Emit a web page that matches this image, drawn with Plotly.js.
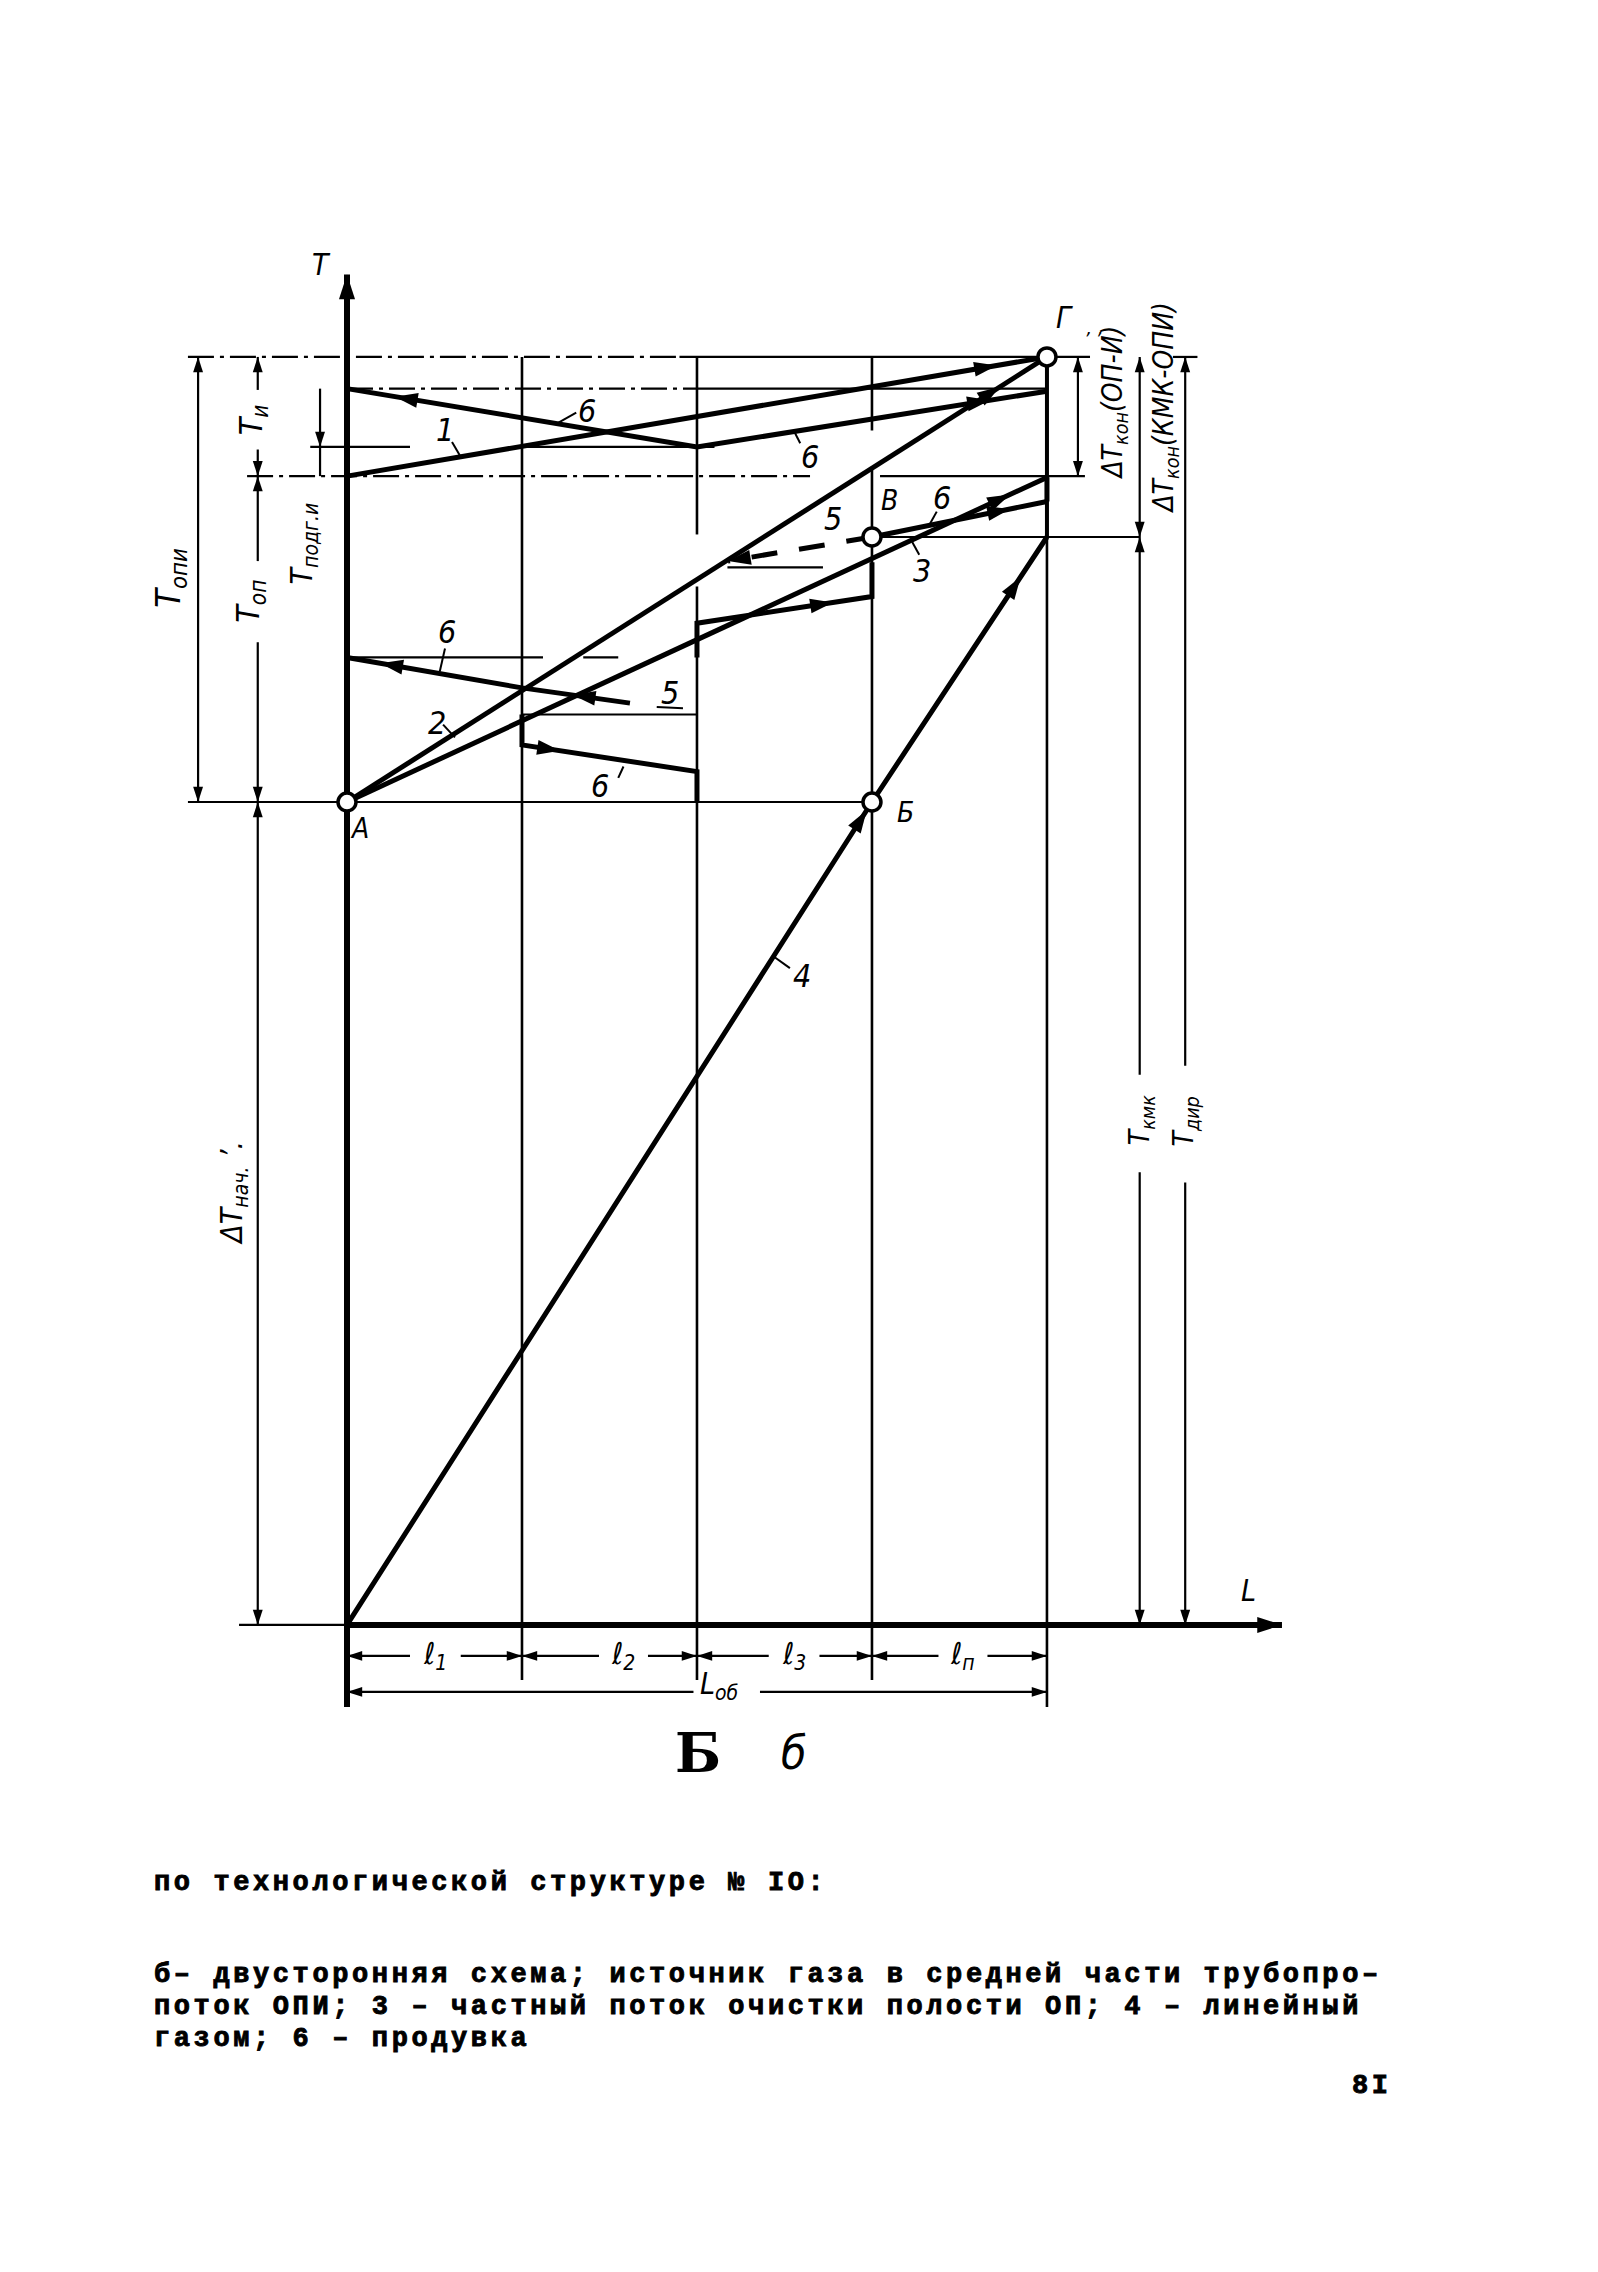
<!DOCTYPE html>
<html>
<head>
<meta charset="utf-8">
<script src="https://cdn.plot.ly/plotly-3.0.1.min.js"></script>
<style>
  html, body { margin: 0; padding: 0; background: #fff; }
  #chart { width: 1598px; height: 2272px; }
</style>
</head>
<body>
<div id="chart"></div>
<script>
// ---- Pipeline length axis L: boundaries of sections ℓ1, ℓ2, ℓ3, ℓп ----
const segmentBounds = [0, 1, 2, 3, 4];
const segmentLabels = ['ℓ<sub>1</sub>', 'ℓ<sub>2</sub>', 'ℓ<sub>3</sub>', 'ℓ<sub>п</sub>'];
const segmentLabelL = [0.503, 1.577, 2.554, 3.52];

// ---- Characteristic times T (Г = 100) ----
const pointNames = ['A', 'Б', 'В', 'Г'];
const pointL = [0, 3, 3, 4];
const pointT = [64.9, 64.9, 85.8, 100];

// ---- Process lines ----
// 1 — ОПИ flow
const flow1L = [0, 4];
const flow1T = [90.6, 100];
// 2 — ОП flow
const flow2L = [0, 4];
const flow2T = [64.9, 100];
// 3 — partial flow of cavity cleaning
const flow3L = [0, 4];
const flow3T = [64.9, 90.5];
// 4 — linear flow
const flow4L = [0, 3, 4];
const flow4T = [0, 64.9, 85.8];
// from point В to the end
const flowBL = [3, 4];
const flowBT = [85.8, 88.6];
// 6 — purge, upper (gas source in the middle part)
const purgeTopL = [0, 2, 4];
const purgeTopT = [97.5, 92.9, 97.3];
// 6 — purge, lower
const purgeMidL = [0, 1, 1.617];
const purgeMidT = [76.3, 73.9, 72.7];
// 6′ — staircase of partial purges
const stepAL = [1, 1, 2, 2];
const stepAT = [71.8, 69.4, 67.3, 64.9];
const stepBL = [2, 2, 3, 3];
const stepBT = [76.3, 79.0, 81.1, 83.8];
const endJumpL = [4, 4];
const endJumpT = [90.5, 88.6];
// 5 — dashed
const dashed5L = [3, 2.177];
const dashed5T = [85.8, 83.9];

// ---- Construction lines ----
const gridL = [1, 1, null, 2, 2, null, 2, 2, null, 3, 3, null, 3, 3, null, 4, 4];
const gridT = [100, -4.34, null, 100, 86.0, null, 81.9, -4.34, null, 100, 94.2, null, 91.1, -4.34, null, 85.8, -6.47];
const endLineL = [4, 4];
const endLineT = [100, 85.8];
const axisTL = [0, 0];
const axisTT = [-6.47, 106.5];
const axisLL = [0, 5.343];
const axisLT = [0, 0];

const levelSolidL = [1.9, 4.246, null, 2, 4, null, -0.21, 0.36, null, 1, 2.1, null, 3.046, 4.217, null,
  3, 4.53, null, 2.174, 2.72, null, 0, 1.12, null, 1.35, 1.55, null, 1, 2, null, -0.909, 3, null, -0.617, 0];
const levelSolidT = [100, 100, null, 97.5, 97.5, null, 92.9, 92.9, null, 92.9, 92.9, null, 90.6, 90.6, null,
  85.8, 85.8, null, 83.4, 83.4, null, 76.3, 76.3, null, 76.3, 76.3, null, 71.8, 71.8, null, 64.9, 64.9, null, 0, 0];
const levelDashL = [-0.909, 1.9, null, 0, 2, null, -0.571, 2.646];
const levelDashT = [100, 100, null, 97.5, 97.5, null, 90.6, 90.6];

// ---- Dimension lines ----
const dimL = [-0.851, -0.851, null, -0.51, -0.51, null, -0.51, -0.51, null, -0.51, -0.51, null, -0.51, -0.51, null,
  -0.51, -0.51, null, -0.154, -0.154, null, 4.177, 4.177, null, 4.53, 4.53, null, 4.53, 4.53, null,
  4.79, 4.79, null, 4.79, 4.79, null, 4.72, 4.86];
const dimT = [100, 64.9, null, 100, 97.4, null, 92.7, 90.6, null, 90.6, 83.9, null, 77.5, 64.9, null,
  64.9, 0, null, 97.5, 90.6, null, 100, 90.6, null, 100, 43.4, null, 35.7, 0, null,
  100, 44.1, null, 34.9, 0, null, 100, 100];
// vertical dimension arrowheads: position and direction (1 up, -1 down)
const dimArrowL = [-0.851, -0.851, -0.51, -0.51, -0.51, -0.51, -0.51, -0.51, -0.154, 4.177, 4.177, 4.53, 4.53, 4.53, 4.53, 4.79, 4.79];
const dimArrowT = [100, 64.9, 100, 90.6, 90.6, 64.9, 64.9, 0, 92.9, 100, 90.6, 100, 85.8, 85.8, 0, 100, 0];
const dimArrowDir = [1, -1, 1, -1, 1, -1, 1, -1, -1, 1, -1, 1, -1, 1, -1, 1, -1];

// length dimensions below the axis
const lenRowT = -2.44;
const totalRowT = -5.28;
const lenDimL = [0, 0.36, null, 0.65, 1.44, null, 1.72, 2.41, null, 2.7, 3.38, null, 3.66, 4];
const totalDimL = [0, 1.98, null, 2.36, 4];

// label leader strokes
const leaderL = [0.6, 0.646, null, 1.206, 1.31, null, 2.56, 2.59, null, 0.56, 0.53, null, 0.549, 0.617, null,
  1.58, 1.55, null, 3.23, 3.27, null, 3.37, 3.33, null, 2.434, 2.531, null, 1.77, 1.92];
const leaderT = [93.3, 92.2, null, 94.8, 95.6, null, 94.0, 93.2, null, 77.0, 75.2, null, 71.0, 70.0, null,
  67.7, 66.8, null, 85.4, 84.4, null, 87.8, 86.8, null, 52.76, 51.8, null, 72.4, 72.3];

// ---- Frame ----
const W = 1598, H = 2272;
const xRange = [-1.983, 7.149];
const yRange = [-51.03, 128.15];
const pxL = W / (xRange[1] - xRange[0]);
const pxT = H / (yRange[1] - yRange[0]);

const INK = '#000';
const traces = [];
function path(xs, ys, width, dash) {
  traces.push({
    type: 'scatter', mode: 'lines', x: xs, y: ys,
    line: { color: INK, width: width, dash: dash || 'solid' },
    hoverinfo: 'skip', cliponaxis: false
  });
}
function heading(dL, dT) { return Math.atan2(dL * pxL, dT * pxT) * 180 / Math.PI; }
function along(Ls, Ts, at) {
  for (let i = 0; i < Ls.length - 1; i++) {
    const a = Ls[i], b = Ls[i + 1];
    if (a === b) continue;
    if (at >= Math.min(a, b) - 1e-9 && at <= Math.max(a, b) + 1e-9) {
      const f = (at - a) / (b - a);
      return { t: Ts[i] + f * (Ts[i + 1] - Ts[i]), dL: b - a, dT: Ts[i + 1] - Ts[i] };
    }
  }
  return null;
}
function arrows(xs, ys, angles, size) {
  traces.push({
    type: 'scatter', mode: 'markers', x: xs, y: ys,
    marker: { symbol: 'arrow', size: size, angle: angles, color: INK, line: { width: 0 } },
    hoverinfo: 'skip', cliponaxis: false
  });
}

// construction
path(levelDashL, levelDashT, 2.2, '26px,6px,4px,6px');
path(levelSolidL, levelSolidT, 2.2);
path(gridL, gridT, 2.6);
path(endLineL, endLineT, 4);
path(dimL, dimT, 2.2);
path(leaderL, leaderT, 2);
path(lenDimL, lenDimL.map(v => v === null ? null : lenRowT), 2.2);
path(totalDimL, totalDimL.map(v => v === null ? null : totalRowT), 2.2);

// axes
path(axisTL, axisTT, 6);
path(axisLL, axisLT, 6);
arrows([axisTL[1]], [axisTT[1]], [0], 26);
arrows([axisLL[1]], [axisLT[1]], [90], 26);

// process lines
const lines = {
  flow1: [flow1L, flow1T], flow2: [flow2L, flow2T], flow3: [flow3L, flow3T], flow4: [flow4L, flow4T],
  flowB: [flowBL, flowBT], purgeTop: [purgeTopL, purgeTopT], purgeMid: [purgeMidL, purgeMidT],
  stepA: [stepAL, stepAT], stepB: [stepBL, stepBT], endJump: [endJumpL, endJumpT]
};
Object.values(lines).forEach(([xs, ys]) => path(xs, ys, 5));
path(dashed5L, dashed5T, 5, '26px,22px');
lines.dashed5 = [dashed5L, dashed5T];

// flow direction arrowheads: [line, L position, direction along the line]
const flowArrowSpec = [
  ['flow1', 3.714, 1], ['flow2', 3.731, 1], ['flow3', 3.789, 1], ['flowB', 3.789, 1],
  ['flow4', 2.97, 1], ['flow4', 3.85, 1],
  ['purgeTop', 0.274, -1], ['purgeTop', 3.674, 1],
  ['purgeMid', 0.19, -1], ['purgeMid', 1.29, -1],
  ['stepA', 1.217, 1], ['stepB', 2.777, 1], ['dashed5', 2.177, 1]
];
const faL = [], faT = [], faA = [];
flowArrowSpec.forEach(([name, at, dir]) => {
  const [xs, ys] = lines[name];
  const p = along(xs, ys, at);
  faL.push(at); faT.push(p.t); faA.push(heading(dir * p.dL, dir * p.dT));
});
arrows(faL, faT, faA, 24);

// dimension arrowheads
arrows(dimArrowL, dimArrowT, dimArrowDir.map(d => d > 0 ? 0 : 180), 16);
const lenArrowL = [], lenArrowA = [];
for (let i = 0; i < segmentBounds.length - 1; i++) {
  lenArrowL.push(segmentBounds[i], segmentBounds[i + 1]);
  lenArrowA.push(-90, 90);
}
arrows(lenArrowL, lenArrowL.map(() => lenRowT), lenArrowA, 16);
const totalEnds = [segmentBounds[0], segmentBounds[segmentBounds.length - 1]];
arrows(totalEnds, totalEnds.map(() => totalRowT), [-90, 90], 16);

// characteristic points
traces.push({
  type: 'scatter', mode: 'markers', x: pointL, y: pointT,
  marker: { symbol: 'circle', size: 18, color: '#fff', line: { color: INK, width: 3.5 } },
  hoverinfo: 'skip', cliponaxis: false
});

// ---- Labels ----
const DRAFT = 'DejaVu Sans Condensed, DejaVu Sans, sans-serif';
const annotations = [];
function label(L, T, text, size, angle, extra) {
  annotations.push(Object.assign({
    x: L, y: T, xref: 'x', yref: 'y', text: text, showarrow: false,
    xanchor: 'center', yanchor: 'middle', textangle: angle || 0,
    font: { family: DRAFT, size: size, color: INK, style: 'italic' }
  }, extra || {}));
}

label(-0.143, 107.3, 'T', 30);
label(5.154, 2.68, 'L', 30);
label(4.103, 103.1, 'Г', 30);
label(4.26, 101.4, '\u2019 \u2019', 20);
const pointLabelL = [0.069, 3.194, 3.103];
const pointLabelT = [62.8, 64.1, 88.7];
pointLabelL.forEach((L, i) => label(L, pointLabelT[i], pointNames[i], 28));

// line numbers
const numText = ['1', '6', '6', '6', '2', '5', '6', '4', '5', '6', '3'];
const numL = [0.56, 1.371, 2.646, 0.571, 0.514, 1.846, 1.446, 2.6, 2.777, 3.4, 3.286];
const numT = [94.2, 95.7, 92.1, 78.3, 71.1, 73.5, 66.2, 51.2, 87.2, 88.9, 83.1];
numText.forEach((t, i) => label(numL[i], numT[i], t, 32));

// rotated dimension labels
const dimLabelText = ['T<sub>опи</sub>', 'T<sub>и</sub>', 'T<sub>оп</sub>', 'T<sub>подг.и</sub>', 'ΔT<sub>нач.</sub> \u2019.',
  'ΔT<sub>кон</sub>(ОП-И)', 'ΔT<sub>кон</sub>(КМК-ОПИ)', 'T<sub>кмк</sub>', 'T<sub>дир</sub>'];
const dimLabelL = [-1.011, -0.537, -0.554, -0.251, -0.651, 4.389, 4.68, 4.537, 4.794];
const dimLabelT = [82.6, 95.0, 80.7, 85.3, 34.1, 96.4, 96.0, 39.8, 39.7];
const dimLabelSize = [34, 32, 32, 30, 30, 28, 28, 28, 28];
dimLabelText.forEach((t, i) => label(dimLabelL[i], dimLabelT[i], t, dimLabelSize[i], -90));

// length labels
segmentLabels.forEach((t, i) => label(segmentLabelL[i], lenRowT, t, 30));
label(2.131, totalRowT + 0.5, 'L<sub>об</sub>', 30);
label(2.006, -10.1, '<b>Б</b>', 54, 0, { font: { family: 'DejaVu Serif, serif', size: 54, color: INK } });
label(2.554, -10.1, 'б', 46);

// ---- Caption text ----
const captionTitle = 'по технологической структуре № IO:';
const captionLines = [
  'б– двусторонняя схема; источник газа в средней части трубопро–',
  'поток ОПИ; 3 – частный поток очистки полости ОП; 4 – линейный',
  'газом; 6 – продувка'
];
const pageNumber = '8I';
const MONO = { family: 'Liberation Mono, DejaVu Sans Mono, monospace', size: 27, color: INK, weight: 700 };
const captionIndex = [];
function caption(text, xPx, yPx, anchor) {
  captionIndex.push(annotations.length);
  annotations.push({
    xref: 'paper', yref: 'paper', x: xPx / W, y: 1 - yPx / H, xanchor: anchor, yanchor: 'middle',
    align: anchor === 'left' ? 'left' : 'center',
    text: text, showarrow: false, font: MONO
  });
}
caption(captionTitle, 152, 1883, 'left');
captionLines.forEach((t, i) => caption(t, 152, 1975 + 32 * i, 'left'));
caption(pageNumber, 1350, 2086, 'left');

const layout = {
  width: W, height: H,
  margin: { l: 0, r: 0, t: 0, b: 0 },
  paper_bgcolor: '#fff', plot_bgcolor: '#fff',
  showlegend: false,
  xaxis: { range: xRange, visible: false, fixedrange: true },
  yaxis: { range: yRange, visible: false, fixedrange: true },
  annotations: annotations
};

Plotly.newPlot('chart', traces, layout, { staticPlot: true, displayModeBar: false }).then(() => {
  // typewriter spacing and heavier ink for the caption
  document.querySelectorAll('#chart .annotation').forEach(g => {
    if (captionIndex.includes(+g.getAttribute('data-index'))) {
      const t = g.querySelector('text');
      if (t) {
        t.style.letterSpacing = '3.6px';
        t.style.stroke = INK;
        t.style.strokeWidth = '0.9px';
      }
    }
  });
});
</script>
</body>
</html>
